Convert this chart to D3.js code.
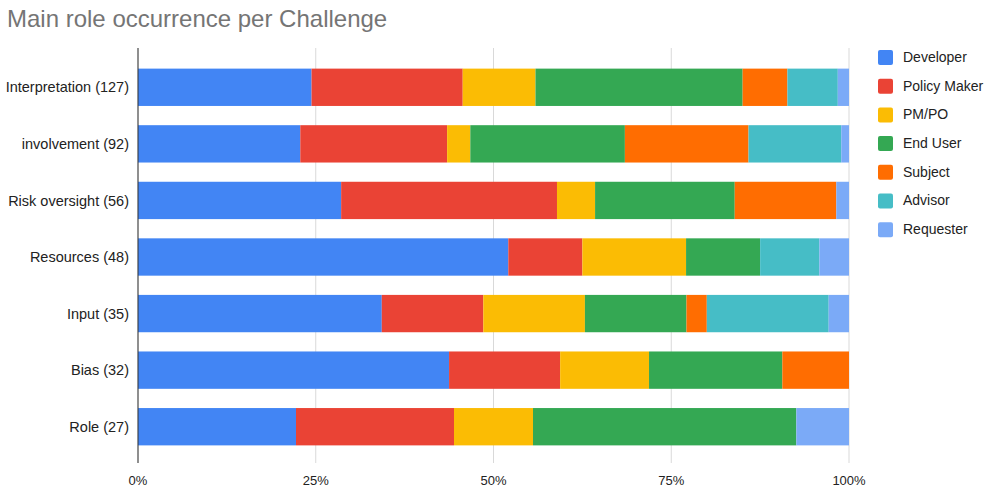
<!DOCTYPE html>
<html>
<head>
<meta charset="utf-8">
<script src="https://cdn.jsdelivr.net/npm/d3@7"></script>
<style>
  body { margin: 0; background: #fff; }
  svg { display: block; font-family: "Liberation Sans", Arial, sans-serif; }
</style>
</head>
<body>
<div id="chart"></div>
<script>
const challenges = ['Interpretation (127)', 'involvement (92)', 'Risk oversight (56)', 'Resources (48)', 'Input (35)', 'Bias (32)', 'Role (27)'];
const roles = ['Developer', 'Policy Maker', 'PM/PO', 'End User', 'Subject', 'Advisor', 'Requester'];
const colors = ['#4285f4', '#ea4335', '#fbbc04', '#34a853', '#ff6d01', '#46bdc6', '#7baaf7'];

// occurrences per role, one array per role (same order as challenges)
const developer   = [31, 21, 16, 25, 12, 14, 6];
const policyMaker = [27, 19, 17, 5, 5, 5, 6];
const pmpo        = [13, 3, 3, 7, 5, 4, 3];
const endUser     = [37, 20, 11, 5, 5, 6, 10];
const subject     = [8, 16, 8, 0, 1, 3, 0];
const advisor     = [9, 12, 0, 4, 6, 0, 0];
const requester   = [2, 1, 1, 2, 1, 0, 2];

const xTicks = [0, 0.25, 0.5, 0.75, 1];

const series = [developer, policyMaker, pmpo, endUser, subject, advisor, requester];

const width = 986;
const height = 491;

// build rows, then stack normalized to 100%
const rows = challenges.map((c, i) => {
  const row = { name: c };
  roles.forEach((r, j) => { row[r] = series[j][i]; });
  return row;
});

const stacked = d3.stack()
  .keys(roles)
  .offset(d3.stackOffsetExpand)(rows);

const svg = d3.select('#chart')
  .append('svg')
  .attr('width', width)
  .attr('height', height);

const xScale = d3.scaleLinear().domain([0, 1]).range([138, 849]);
const yScale = d3.scaleBand()
  .domain(challenges)
  .range([59, 455])
  .paddingInner(0.34)
  .paddingOuter(0.17);

// title
svg.append('text')
  .attr('x', 7)
  .attr('y', 27)
  .attr('fill', '#757575')
  .style('font-size', '24px')
  .text('Main role occurrence per Challenge');

// gridlines
svg.append('g')
  .selectAll('line')
  .data(xTicks)
  .join('line')
  .attr('x1', d => xScale(d))
  .attr('x2', d => xScale(d))
  .attr('y1', 48)
  .attr('y2', 463)
  .attr('stroke', '#d9d9d9')
  .attr('stroke-width', 1);

// bars
const layers = svg.append('g')
  .selectAll('g')
  .data(stacked)
  .join('g')
  .attr('fill', (d, i) => colors[i]);

layers.selectAll('rect')
  .data(d => d.map(v => ({ v, name: v.data.name })))
  .join('rect')
  .attr('x', d => xScale(d.v[0]))
  .attr('y', d => yScale(d.name))
  .attr('width', d => Math.max(0, xScale(d.v[1]) - xScale(d.v[0])))
  .attr('height', yScale.bandwidth());

// axis line
svg.append('line')
  .attr('x1', xScale(0))
  .attr('x2', xScale(0))
  .attr('y1', 48)
  .attr('y2', 463)
  .attr('stroke', '#333')
  .attr('stroke-width', 1);

// x tick labels
svg.append('g')
  .selectAll('text')
  .data(xTicks)
  .join('text')
  .attr('x', d => xScale(d))
  .attr('y', 485)
  .attr('text-anchor', 'middle')
  .attr('fill', '#222')
  .style('font-size', '13px')
  .text(d3.format('.0%'));

// y labels
svg.append('g')
  .selectAll('text')
  .data(challenges)
  .join('text')
  .attr('x', 129)
  .attr('y', d => yScale(d) + yScale.bandwidth() / 2)
  .attr('dy', '0.35em')
  .attr('text-anchor', 'end')
  .attr('fill', '#222')
  .style('font-size', '14.5px')
  .text(d => d);

// legend
const legend = svg.append('g')
  .selectAll('g')
  .data(roles)
  .join('g')
  .attr('transform', (d, i) => `translate(878, ${57 + i * 28.7})`);

legend.append('rect')
  .attr('x', 0)
  .attr('y', -7)
  .attr('width', 15)
  .attr('height', 15)
  .attr('rx', 2)
  .attr('fill', (d, i) => colors[i]);

legend.append('text')
  .attr('x', 25)
  .attr('dy', '0.35em')
  .attr('fill', '#222')
  .style('font-size', '14px')
  .text(d => d);
</script>
</body>
</html>
